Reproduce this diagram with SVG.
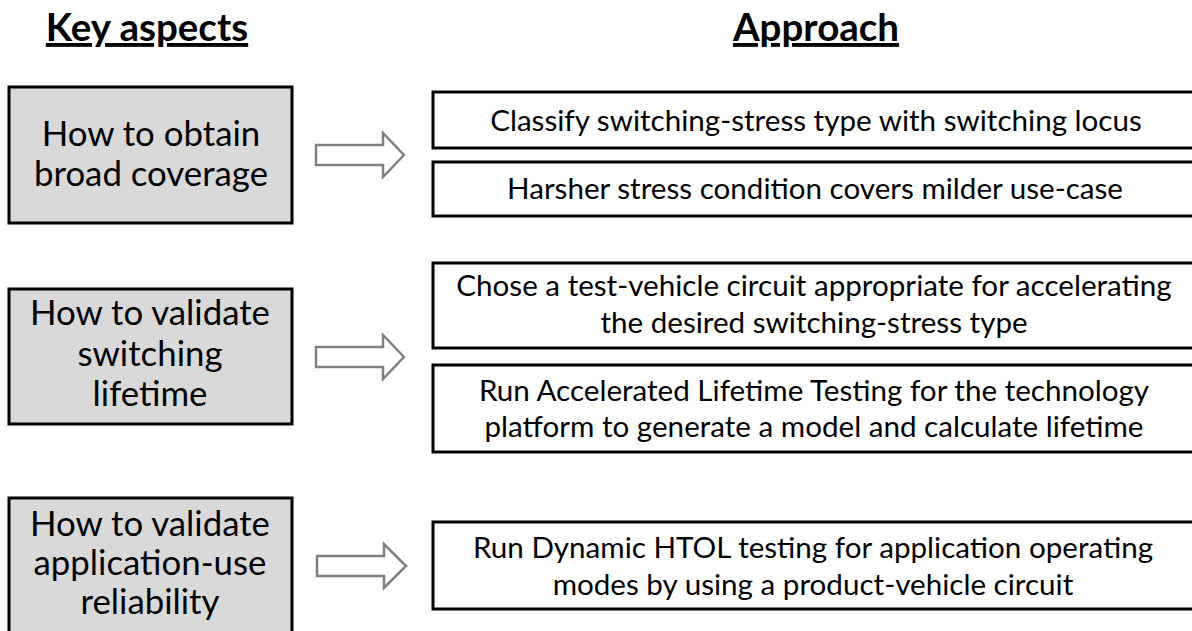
<svg xmlns="http://www.w3.org/2000/svg" width="1192" height="631" viewBox="0 0 1192 631">
<style>
.title{font-family:Lato,"Liberation Sans",sans-serif;font-weight:bold;font-size:38.5px;fill:#000;text-anchor:middle;text-decoration:underline}
.key rect{fill:#d9d9d9;stroke:#000;stroke-width:3}
.key text{font-family:Lato,"Liberation Sans",sans-serif;font-size:34.8px;fill:#000;text-anchor:middle}
.app rect{fill:#fff;stroke:#000;stroke-width:3}
.app text{font-family:Lato,"Liberation Sans",sans-serif;font-size:29.6px;fill:#000;text-anchor:middle}
.arrow{fill:#fff;stroke:#808080;stroke-width:2.5;stroke-linejoin:miter}
</style>
<rect width="1192" height="631" fill="#fff"/>
<text class="title" x="147" y="41">Key aspects</text>
<text class="title" x="816" y="41">Approach</text>

<g id="key1" class="key">
<rect x="9" y="87" width="283" height="136"/>
<text x="151" y="146">How to obtain</text>
<text x="151" y="186">broad coverage</text>
</g>
<g id="key2" class="key">
<rect x="9" y="289" width="283" height="135"/>
<text x="150" y="325">How to validate</text>
<text x="150" y="366">switching</text>
<text x="150" y="406">lifetime</text>
</g>
<g id="key3" class="key">
<rect x="9" y="498" width="283" height="140"/>
<text x="150" y="536">How to validate</text>
<text x="150" y="575">application-use</text>
<text x="150" y="614">reliability</text>
</g>

<g id="app1" class="app">
<rect x="433" y="92" width="770" height="56"/>
<text x="816" y="131">Classify switching-stress type with switching locus</text>
</g>
<g id="app2" class="app">
<rect x="433" y="162" width="770" height="54"/>
<text x="815" y="199">Harsher stress condition covers milder use-case</text>
</g>
<g id="app3" class="app">
<rect x="433" y="263" width="770" height="85"/>
<text x="814" y="296">Chose a test-vehicle circuit appropriate for accelerating</text>
<text x="814" y="333">the desired switching-stress type</text>
</g>
<g id="app4" class="app">
<rect x="433" y="365" width="770" height="87"/>
<text x="814" y="401">Run Accelerated Lifetime Testing for the technology</text>
<text x="814" y="437">platform to generate a model and calculate lifetime</text>
</g>
<g id="app5" class="app">
<rect x="433" y="522" width="770" height="87"/>
<text x="813" y="558">Run Dynamic HTOL testing for application operating</text>
<text x="813" y="595">modes by using a product-vehicle circuit</text>
</g>

<g id="connectors">
<polygon class="arrow" points="316,145 383,145 383,133 404,155 383,177 383,165 316,165"/>
<polygon class="arrow" points="316,347 383,347 383,335 404,357 383,379 383,367 316,367"/>
<polygon class="arrow" points="317,556 384,556 384,544 406,566 384,588 384,576 317,576"/>
</g>
</svg>
